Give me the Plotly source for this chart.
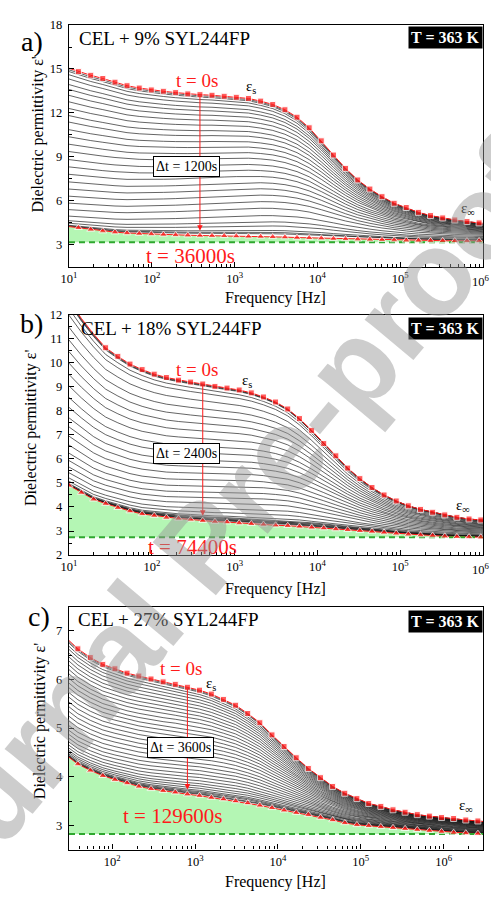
import numpy as np
import plotly.graph_objects as go

W, H = 491, 898
SERIF = "Liberation Serif, Times New Roman, serif"
RED = "#ff1a1a"

# ---------------- data ----------------
# Panel a: CEL + 9% SYL244FP
freq_a = [10, 13.0, 18.3, 25.6, 35.9, 50.2, 70.5, 98.6, 138, 194, 272, 381, 533, 748,
          1047, 1469, 2061, 2884, 4046, 5662, 7943, 11120, 15600, 21830, 30620, 42950,
          60120, 84330, 118000, 165600, 231700, 325100, 455000, 638300, 893400, 1000000]
top_a = [15.05, 14.82, 14.57, 14.35, 14.10, 13.86, 13.70, 13.57, 13.48, 13.39, 13.30,
         13.25, 13.21, 13.14, 13.07, 12.99, 12.81, 12.58, 12.22, 11.71, 10.99, 10.10,
         9.13, 8.22, 7.43, 6.81, 6.29, 5.84, 5.55, 5.22, 5.00, 4.84, 4.70, 4.59, 4.50, 4.47]
bot_a = [4.25, 4.17, 4.05, 3.94, 3.87, 3.81, 3.77, 3.74, 3.71, 3.68, 3.66, 3.64, 3.63,
         3.62, 3.60, 3.58, 3.57, 3.55, 3.53, 3.50, 3.48, 3.46, 3.43, 3.41, 3.39, 3.37,
         3.35, 3.33, 3.31, 3.30, 3.29, 3.28, 3.27, 3.27, 3.27, 3.26]
eps_inf_a = 3.18
# relative position of each intermediate spectrum between t=0 and t=end (low / high f edge)
frac_lo_a = [0.990, 0.979, 0.959, 0.932, 0.897, 0.866, 0.829, 0.788, 0.746, 0.701,
             0.660, 0.612, 0.567, 0.520, 0.474, 0.423, 0.377, 0.330, 0.282, 0.237,
             0.192, 0.148, 0.107, 0.066, 0.037, 0.021, 0.008, 0.004, 0.002]
frac_hi_a = [0.995, 0.989, 0.979, 0.965, 0.947, 0.931, 0.910, 0.888, 0.864, 0.837,
             0.812, 0.782, 0.753, 0.721, 0.688, 0.650, 0.614, 0.574, 0.531, 0.487,
             0.438, 0.385, 0.327, 0.257, 0.192, 0.145, 0.089, 0.063, 0.045]

# Panel b: CEL + 18% SYL244FP
freq_b = [10, 14.1, 19.8, 27.7, 38.9, 54.5, 76.4, 107, 150, 210, 294, 412, 578, 809,
          1135, 1589, 2228, 3119, 4375, 6067, 8511, 11910, 16670, 23170, 32510, 45500,
          63680, 89330, 125000, 175400, 245500, 344400, 482000, 676100, 937600, 1000000]
top_b = [12.6, 11.85, 11.2, 10.63, 10.27, 9.95, 9.72, 9.53, 9.39, 9.28, 9.20, 9.12,
         9.02, 8.95, 8.87, 8.75, 8.58, 8.37, 8.08, 7.68, 7.19, 6.64, 6.13, 5.62, 5.18,
         4.81, 4.50, 4.25, 4.05, 3.90, 3.78, 3.67, 3.57, 3.50, 3.46, 3.45]
bot_b = [4.90, 4.60, 4.32, 4.14, 3.97, 3.83, 3.71, 3.64, 3.56, 3.52, 3.48, 3.43, 3.39,
         3.37, 3.33, 3.30, 3.27, 3.24, 3.22, 3.19, 3.15, 3.12, 3.08, 3.05, 3.01, 2.98,
         2.94, 2.90, 2.86, 2.83, 2.81, 2.78, 2.76, 2.75, 2.74, 2.74]
eps_inf_b = 2.74
frac_lo_b = [0.995, 0.990, 0.985, 0.955, 0.920, 0.855, 0.786, 0.723, 0.661, 0.600,
             0.538, 0.475, 0.422, 0.365, 0.316, 0.266, 0.218, 0.174, 0.134, 0.099,
             0.068, 0.040, 0.022, 0.010, 0.006, 0.004, 0.0025, 0.0015, 0.001, 0.0005]
frac_hi_b = [0.997, 0.995, 0.992, 0.977, 0.959, 0.925, 0.887, 0.850, 0.813, 0.775,
             0.733, 0.689, 0.650, 0.604, 0.562, 0.516, 0.467, 0.417, 0.366, 0.315,
             0.261, 0.200, 0.148, 0.100, 0.077, 0.063, 0.050, 0.039, 0.032, 0.022]

# Panel c: CEL + 27% SYL244FP
freq_c = [30, 38.4, 54.3, 76.8, 107.6, 150.7, 209.3, 293.3, 411, 576, 807, 1130, 1570,
          2199, 3082, 4318, 6045, 8470, 11860, 16630, 23290, 32660, 45710, 64120, 89740,
          124700, 174600, 244900, 342800, 480900, 673200, 944100, 1321000, 1853000,
          2594000, 3000000]
top_c = [6.80, 6.63, 6.45, 6.31, 6.22, 6.13, 6.07, 6.01, 5.95, 5.90, 5.84, 5.78, 5.70,
         5.59, 5.47, 5.30, 5.11, 4.86, 4.62, 4.39, 4.17, 3.98, 3.80, 3.66, 3.55, 3.45,
         3.39, 3.32, 3.27, 3.22, 3.19, 3.16, 3.14, 3.11, 3.09, 3.08]
bot_c = [4.40, 4.26, 4.13, 4.02, 3.94, 3.87, 3.80, 3.75, 3.71, 3.68, 3.64, 3.61, 3.57,
         3.54, 3.50, 3.46, 3.41, 3.36, 3.31, 3.26, 3.22, 3.16, 3.11, 3.05, 3.01, 2.99,
         2.97, 2.95, 2.93, 2.91, 2.89, 2.87, 2.85, 2.84, 2.83, 2.83]
eps_inf_c = 2.82
frac_lo_c = [0.990, 0.978, 0.951, 0.924, 0.892, 0.859, 0.824, 0.789, 0.751, 0.714,
             0.676, 0.635, 0.595, 0.554, 0.514, 0.473, 0.432, 0.392, 0.351, 0.311,
             0.270, 0.230, 0.195, 0.162, 0.130, 0.103, 0.078, 0.057, 0.041, 0.027,
             0.016, 0.010, 0.006, 0.003, 0.0015]
frac_hi_c = [0.995, 0.989, 0.975, 0.961, 0.944, 0.927, 0.908, 0.888, 0.867, 0.845,
             0.822, 0.797, 0.771, 0.744, 0.717, 0.688, 0.657, 0.626, 0.592, 0.558,
             0.520, 0.480, 0.442, 0.402, 0.361, 0.321, 0.279, 0.239, 0.202, 0.164,
             0.126, 0.100, 0.077, 0.055, 0.039]

titles = ["CEL + 9% SYL244FP", "CEL + 18% SYL244FP", "CEL + 27% SYL244FP"]
panel_labels = ["a)", "b)", "c)"]
t_end_labels = ["t = 36000s", "t = 74400s", "t = 129600s"]
dt_labels = ["\u0394t = 1200s", "\u0394t = 2400s", "\u0394t = 3600s"]
temp_label = "T = 363 K"
y_title = "Dielectric permittivity \u03b5'"
x_title = "Frequency [Hz]"
watermark = "Journal Pre-proof"

# ---------------- layout geometry (pixels) ----------------
def px(x):
    return x / W

def py(y):
    return 1 - y / H

panels = [
    dict(freq=freq_a, top=top_a, bot=bot_a, einf=eps_inf_a, flo=frac_lo_a, fhi=frac_hi_a,
         top_mark=[0] + [1] * 34 + [0], bot_mark=[0] + [1] * 34 + [0], arrow_i=11,
         xr=[1, 6], yr=[1.5, 18], ydt=3, yminor=1.5, ytick0=1.5, ypx=(18.3, 264),
         xt=[1, 2, 3, 4, 5], edge_lab=6,
         lab=(24, 35), title=(70, 32.5), tbox=19, t0=(192, 75), tend=(185.5, 253),
         es=(247, 81), einf_lab=(468, 205), dtbox=(181.5, 162), ytit=(30, 130), xtit=296),
    dict(freq=freq_b, top=top_b, bot=bot_b, einf=eps_inf_b, flo=frac_lo_b, fhi=frac_hi_b,
         top_mark=[0, 0, 0] + [1] * 32 + [0], bot_mark=[1] * 35 + [0], arrow_i=11,
         xr=[1, 6], yr=[2, 12], ydt=1, yminor=0.5, ytick0=2, ypx=(312.7, 556.7),
         xt=[1, 2, 3, 4, 5], edge_lab=6,
         lab=(24, 322), title=(72, 327), tbox=315, t0=(192, 368), tend=(188, 549),
         es=(243, 380), einf_lab=(463, 507), dtbox=(181, 454), ytit=(24, 428), xtit=591),
    dict(freq=freq_c, top=top_c, bot=bot_c, einf=eps_inf_c, flo=frac_lo_c, fhi=frac_hi_c,
         top_mark=[0] + [1] * 34 + [0], bot_mark=[0] + [1] * 34 + [0], arrow_i=10,
         xr=[np.log10(30), np.log10(3e6)], yr=[2.5, 7.48], ydt=1, yminor=0.5, ytick0=2.5,
         ypx=(610, 856), xt=[2, 3, 4, 5, 6], edge_lab=None,
         lab=(32, 619), title=(69, 622), tbox=613, t0=(175.5, 672), tend=(167, 822),
         es=(206, 688), einf_lab=(466, 812), dtbox=(175.5, 752), ytit=(32, 725), xtit=889),
]

fig = go.Figure()
annotations = []
layout_axes = {}

for i, p in enumerate(panels):
    n = "" if i == 0 else str(i + 1)
    xref, yref = "x" + n, "y" + n
    f = np.array(p["freq"], dtype=float)
    lf = np.log10(f)
    top = np.array(p["top"])
    bot = np.array(p["bot"])
    w = (lf - lf[0]) / (lf[-1] - lf[0])

    # intermediate ageing spectra (thin black)
    for flo, fhi in zip(p["flo"], p["fhi"]):
        frac = flo + (fhi - flo) * w
        fig.add_trace(go.Scatter(x=f, y=bot + frac * (top - bot), mode="lines",
                                 line=dict(color="#111111", width=0.65),
                                 xaxis=xref, yaxis=yref, showlegend=False,
                                 hoverinfo="skip"))
    # baseline for the green area
    fig.add_trace(go.Scatter(x=f, y=[p["einf"]] * len(f), mode="lines",
                             line=dict(width=0, color="rgba(0,0,0,0)"),
                             xaxis=xref, yaxis=yref, showlegend=False, hoverinfo="skip"))
    fig.add_trace(go.Scatter(x=f, y=bot, mode="lines", fill="tonexty",
                             fillcolor="#b4f6b4", line=dict(color=RED, width=1),
                             xaxis=xref, yaxis=yref, showlegend=False, hoverinfo="skip"))
    # epsilon_inf dashed line
    fig.add_trace(go.Scatter(x=f, y=[p["einf"]] * len(f), mode="lines",
                             line=dict(color="#2fa82f", width=2, dash="6px,4px"),
                             xaxis=xref, yaxis=yref, showlegend=False, hoverinfo="skip"))
    # t = 0 spectrum
    fig.add_trace(go.Scatter(x=f, y=top, mode="lines+markers",
                             line=dict(color=RED, width=1),
                             marker=dict(symbol="square", color=RED,
                                         size=[6 * m for m in p["top_mark"]]),
                             xaxis=xref, yaxis=yref, showlegend=False, hoverinfo="skip"))
    # final spectrum
    fig.add_trace(go.Scatter(x=f, y=bot, mode="markers",
                             marker=dict(symbol="triangle-up", color=RED,
                                         size=[7 * m for m in p["bot_mark"]]),
                             xaxis=xref, yaxis=yref, showlegend=False, hoverinfo="skip"))

    # axes
    y0, y1 = p["ypx"]
    minor_vals = [d * 10 ** k for k in range(0, 8) for d in range(2, 10)]
    layout_axes["xaxis" + n] = dict(
        type="log", range=p["xr"], domain=[px(62), px(483)], anchor=yref,
        showline=True, linecolor="black", linewidth=1.4, mirror=True,
        ticks="inside", ticklen=5, tickwidth=1, tickcolor="black",
        tickmode="array", tickvals=[10 ** e for e in p["xt"]],
        ticktext=["10<sup>%d</sup>" % e for e in p["xt"]],
        minor=dict(ticks="inside", ticklen=3, tickwidth=0.8, tickcolor="black",
                   tickmode="array", tickvals=minor_vals, showgrid=False),
        showgrid=False, zeroline=False,
        tickfont=dict(family=SERIF, size=12.5, color="black"))
    layout_axes["yaxis" + n] = dict(
        range=p["yr"], domain=[py(y1), py(y0)], anchor=xref,
        showline=True, linecolor="black", linewidth=1.4, mirror=True,
        ticks="inside", ticklen=5, tickwidth=1, tickcolor="black",
        dtick=p["ydt"], tick0=0,
        minor=dict(ticks="inside", ticklen=3, tickwidth=0.8, tickcolor="black",
                   dtick=p["yminor"], tick0=p["ytick0"], showgrid=False),
        showgrid=False, zeroline=False, ticklabelstandoff=3,
        tickfont=dict(family=SERIF, size=12.5, color="black"))

    # last decade label sits at the right page edge (cut in the original)
    if p["edge_lab"] is not None:
        annotations.append(dict(text="10<sup>%d</sup>" % p["edge_lab"], x=1.0,
                                y=py(y1 + 14), xref="paper", yref="paper",
                                showarrow=False, xanchor="right", yanchor="middle",
                                borderpad=0,
                                font=dict(family=SERIF, size=12.5, color="black")))

    # red arrow from t=0 to t=end
    ai = p["arrow_i"]
    annotations.append(dict(
        x=lf[ai], y=bot[ai] + 0.02 * (p["yr"][1] - p["yr"][0]), ax=lf[ai], ay=top[ai],
        xref=xref, yref=yref, axref=xref, ayref=yref, text="", showarrow=True,
        arrowhead=2, arrowsize=1.1, arrowwidth=1, arrowcolor=RED))

    def txt(text, pos, size, color="black", xanchor="center", **kw):
        d = dict(text=text, x=px(pos[0]), y=py(pos[1]), xref="paper", yref="paper",
                 showarrow=False, xanchor=xanchor, yanchor="middle",
                 font=dict(family=SERIF, size=size, color=color))
        d.update(kw)
        annotations.append(d)

    txt(panel_labels[i], p["lab"], 28)
    txt(titles[i], p["title"], 19, xanchor="left")
    annotations.append(dict(text="<b>%s</b>" % temp_label, x=px(483), y=py(p["tbox"]),
                            xref="paper", yref="paper", showarrow=False,
                            xanchor="right", yanchor="top", bgcolor="black", borderpad=2,
                            font=dict(family=SERIF, size=16, color="white")))
    txt("t = 0s", p["t0"], 19, color=RED)
    txt(t_end_labels[i], p["tend"], 21, color=RED)
    txt("\u03b5<sub>s</sub>", p["es"], 15)
    txt("\u03b5<sub>\u221e</sub>", p["einf_lab"], 15)
    txt(dt_labels[i], p["dtbox"], 14, bgcolor="white", bordercolor="black",
        borderwidth=1, borderpad=2)
    txt(y_title, p["ytit"], 16, textangle=-90)
    txt(x_title, (271.5, p["xtit"]), 16)

# watermark
annotations.append(dict(text="<b>%s</b>" % watermark, x=px(198), y=py(548), xref="paper",
                        yref="paper", showarrow=False, textangle=-50,
                        font=dict(family="Liberation Sans", size=120,
                                  color="rgba(150,150,150,0.48)")))

fig.update_layout(width=W, height=H, margin=dict(l=0, r=0, t=0, b=0),
                  paper_bgcolor="white", plot_bgcolor="white", showlegend=False,
                  annotations=annotations, **layout_axes)
fig.write_html("out.html")
